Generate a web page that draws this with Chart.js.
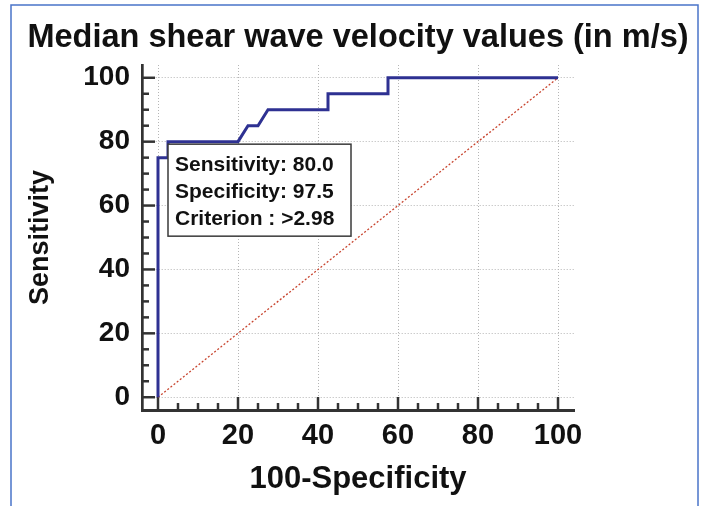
<!DOCTYPE html>
<html>
<head>
<meta charset="utf-8">
<script src="https://cdn.jsdelivr.net/npm/chart.js@4.4.1/dist/chart.umd.min.js"></script>
<style>
  html, body { margin: 0; padding: 0; background: #fff; }
</style>
</head>
<body>
<canvas id="roc" width="707" height="506"></canvas>
<script>
// ROC curve (x = 100-Specificity, y = Sensitivity)
const fprValues = [0, 0, 2.5, 2.5, 20, 22.5, 25, 27.5, 42.5, 42.5, 57.5, 57.5, 100];
const sensValues = [0, 75, 75, 80, 80, 85, 85, 90, 90, 95, 95, 100, 100];

// chance line
const refX = [0, 100];
const refY = [0, 100];

const tickValues = [0, 20, 40, 60, 80, 100];
const minorStep = 5;

// optimal criterion point and its label
const criterionPoint = [2.5, 80];
const criterionLines = ["Sensitivity: 80.0", "Specificity: 97.5", "Criterion : >2.98"];

const FONT = '"Liberation Sans", Arial, Helvetica, sans-serif';

const toPoints = (xs, ys) => xs.map((x, i) => ({ x: x, y: ys[i] }));

// thin blue frame round the figure
const frameBorder = {
    id: "frameBorder",
    beforeDraw(chart) {
        const ctx = chart.ctx;
        ctx.save();
        ctx.strokeStyle = "#4a74c9";
        ctx.lineWidth = 1.5;
        ctx.strokeRect(11, 5, 687, 520);
        ctx.restore();
    },
};

// tick marks pointing into the plot, majors longer than minors
const innerTicks = {
    id: "innerTicks",
    beforeDatasetsDraw(chart) {
        const { ctx, chartArea, scales } = chart;
        ctx.save();
        ctx.strokeStyle = "#333";
        ctx.lineWidth = 2.5;
        for (let v = 0; v <= 100; v += minorStep) {
            const len = v % 20 === 0 ? 13 : 7;
            const py = scales.y.getPixelForValue(v);
            ctx.beginPath();
            ctx.moveTo(chartArea.left, py);
            ctx.lineTo(chartArea.left + len, py);
            ctx.stroke();
            const px = scales.x.getPixelForValue(v);
            ctx.beginPath();
            ctx.moveTo(px, chartArea.bottom);
            ctx.lineTo(px, chartArea.bottom - len);
            ctx.stroke();
        }
        ctx.restore();
    },
};

// box with the criterion values, hung from the cut-off point
const criterionBox = {
    id: "criterionBox",
    afterDatasetsDraw(chart) {
        const { ctx, scales } = chart;
        const left = scales.x.getPixelForValue(criterionPoint[0]);
        const top = scales.y.getPixelForValue(criterionPoint[1]) + 2.5;
        ctx.save();
        ctx.fillStyle = "#fff";
        ctx.fillRect(left, top, 183, 92);
        ctx.strokeStyle = "#3a3a3a";
        ctx.lineWidth = 1.5;
        ctx.strokeRect(left, top, 183, 92);
        ctx.fillStyle = "#111";
        ctx.font = "bold 21px " + FONT;
        ctx.textBaseline = "alphabetic";
        criterionLines.forEach((line, i) => {
            ctx.fillText(line, left + 7, top + 26.5 + i * 27);
        });
        ctx.restore();
    },
};

new Chart(document.getElementById("roc"), {
    type: "scatter",
    data: {
        datasets: [
            {
                data: toPoints(fprValues, sensValues),
                showLine: true,
                borderColor: "#2e3192",
                borderWidth: 3,
                pointRadius: 0,
                tension: 0,
            },
            {
                data: toPoints(refX, refY),
                showLine: true,
                borderColor: "#c8452f",
                borderWidth: 1.3,
                borderDash: [2, 2],
                pointRadius: 0,
            },
        ],
    },
    options: {
        responsive: false,
        animation: false,
        layout: { padding: { left: 12, right: 3, top: 0, bottom: 0 } },
        plugins: {
            legend: { display: false },
            tooltip: { enabled: false },
            title: {
                display: true,
                text: "Median shear wave velocity values (in m/s)",
                color: "#111",
                font: { family: FONT, size: 32.5, weight: "bold" },
                padding: { top: 19, bottom: 7 },
            },
        },
        scales: {
            x: {
                type: "linear",
                min: -4,
                max: 104,
                afterBuildTicks: (s) => { s.ticks = tickValues.map((v) => ({ value: v })); },
                afterFit: (s) => { s.height = 96; },
                grid: { color: "#b5b5b5", lineWidth: 1, drawTicks: false },
                border: { display: true, color: "#333", width: 3, dash: [1, 2] },
                ticks: {
                    color: "#111",
                    font: { family: FONT, size: 29, weight: "bold" },
                    padding: 8.6,
                    maxRotation: 0,
                    autoSkip: false,
                },
                title: {
                    display: true,
                    text: "100-Specificity",
                    color: "#111",
                    font: { family: FONT, size: 31, weight: "bold" },
                    padding: { top: 0, bottom: 8 },
                },
            },
            y: {
                type: "linear",
                min: -4,
                max: 104,
                afterBuildTicks: (s) => { s.ticks = tickValues.map((v) => ({ value: v })); },
                afterFit: (s) => { s.width = 130; },
                grid: { color: "#b5b5b5", lineWidth: 1, drawTicks: false },
                border: { display: true, color: "#333", width: 2.7, dash: [1, 2] },
                ticks: {
                    color: "#111",
                    font: { family: FONT, size: 28, weight: "bold" },
                    padding: 12,
                    autoSkip: false,
                },
                title: {
                    display: true,
                    text: "Sensitivity",
                    color: "#111",
                    font: { family: FONT, size: 27, weight: "bold" },
                    padding: { top: 12.5, bottom: 0 },
                },
            },
            // empty right axis, only keeps the space on the right of the plot
            y2: {
                type: "linear",
                position: "right",
                display: true,
                grid: { display: false, drawTicks: false },
                border: { display: false },
                ticks: { display: false },
                afterFit: (s) => { s.width = 130; },
            },
        },
    },
    plugins: [frameBorder, innerTicks, criterionBox],
});
</script>
</body>
</html>
